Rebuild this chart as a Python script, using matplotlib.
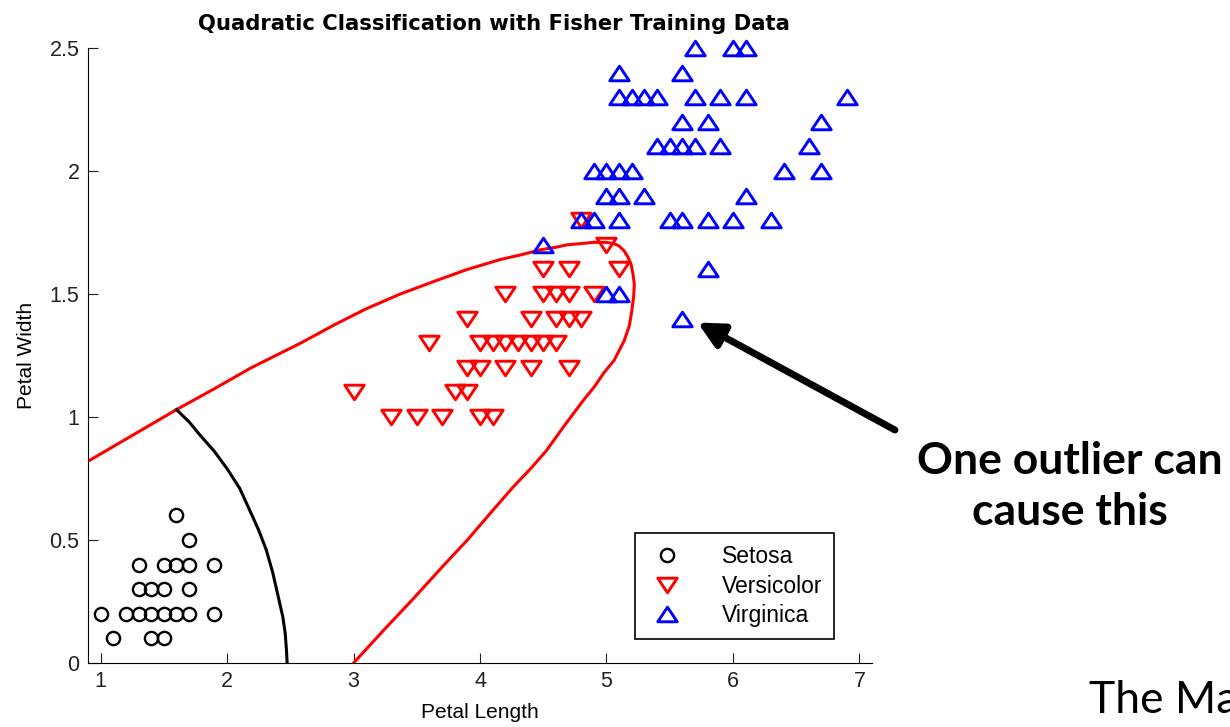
import matplotlib
matplotlib.use("Agg")
import matplotlib.pyplot as plt
from matplotlib.path import Path

plt.rcParams['font.family'] = ['Liberation Sans', 'DejaVu Sans']

# petal length / width
setosa_len = [1.6, 1.7, 1.3, 1.5, 1.6, 1.7, 1.9, 1.3, 1.4, 1.5, 1.7,
              1.0, 1.2, 1.3, 1.4, 1.5, 1.6, 1.7, 1.9, 1.1, 1.4, 1.5]
setosa_wid = [0.6, 0.5, 0.4, 0.4, 0.4, 0.4, 0.4, 0.3, 0.3, 0.3, 0.3,
              0.2, 0.2, 0.2, 0.2, 0.2, 0.2, 0.2, 0.2, 0.1, 0.1, 0.1]

versi_len = [5.0, 4.5, 4.7, 5.1, 4.2, 4.5, 4.6, 4.7, 4.9, 3.9, 4.4, 4.6, 4.7, 4.8,
             3.6, 4.0, 4.1, 4.2, 4.3, 4.4, 4.5, 4.6, 3.9, 4.0, 4.2, 4.4, 4.7,
             3.0, 3.8, 3.9, 3.3, 3.5, 3.7, 4.0, 4.1, 4.8]
versi_wid = [1.7, 1.6, 1.6, 1.6, 1.5, 1.5, 1.5, 1.5, 1.5, 1.4, 1.4, 1.4, 1.4, 1.4,
             1.3, 1.3, 1.3, 1.3, 1.3, 1.3, 1.3, 1.3, 1.2, 1.2, 1.2, 1.2, 1.2,
             1.1, 1.1, 1.1, 1.0, 1.0, 1.0, 1.0, 1.0, 1.8]

virg_len = [5.7, 6.0, 6.1, 5.1, 5.6, 5.1, 5.2, 5.3, 5.4, 5.7, 5.9, 6.1, 6.9,
            5.6, 5.8, 6.7, 5.4, 5.5, 5.6, 5.7, 5.9, 6.6, 4.9, 5.0, 5.1, 5.2, 6.4, 6.7,
            5.0, 5.1, 5.3, 6.1, 4.8, 4.9, 5.1, 5.5, 5.6, 5.8, 6.0, 6.3,
            4.5, 5.8, 5.0, 5.1, 5.6]
virg_wid = [2.5, 2.5, 2.5, 2.4, 2.4, 2.3, 2.3, 2.3, 2.3, 2.3, 2.3, 2.3, 2.3,
            2.2, 2.2, 2.2, 2.1, 2.1, 2.1, 2.1, 2.1, 2.1, 2.0, 2.0, 2.0, 2.0, 2.0, 2.0,
            1.9, 1.9, 1.9, 1.9, 1.8, 1.8, 1.8, 1.8, 1.8, 1.8, 1.8, 1.8,
            1.7, 1.6, 1.5, 1.5, 1.4]

# decision boundaries
red_x = [0.9, 1.25, 1.60, 1.90, 2.19, 2.58, 2.85, 3.10, 3.37, 3.63, 3.90, 4.16, 4.33,
         4.48, 4.60, 4.69, 4.80, 4.90, 5.00, 5.06, 5.10, 5.14, 5.17, 5.195, 5.21, 5.22,
         5.215, 5.20, 5.18, 5.14, 5.10, 5.06, 4.98, 4.90, 4.82, 4.66, 4.52, 4.40, 4.27,
         4.10, 3.90, 3.70, 3.47, 3.25, 3.0]
red_y = [0.82, 0.925, 1.03, 1.115, 1.20, 1.30, 1.375, 1.44, 1.50, 1.55, 1.60, 1.64, 1.66,
         1.68, 1.69, 1.70, 1.705, 1.71, 1.71, 1.705, 1.695, 1.675, 1.65, 1.62, 1.58, 1.54,
         1.49, 1.43, 1.37, 1.31, 1.27, 1.23, 1.18, 1.12, 1.07, 0.96, 0.86, 0.79, 0.72,
         0.62, 0.50, 0.39, 0.26, 0.14, 0.0]
black_x = [1.60, 1.70, 1.78, 1.90, 2.00, 2.10, 2.18, 2.25, 2.31, 2.36, 2.40, 2.44, 2.46, 2.47, 2.475]
black_y = [1.03, 0.98, 0.93, 0.86, 0.79, 0.71, 0.62, 0.54, 0.46, 0.37, 0.28, 0.19, 0.12, 0.05, 0.0]

tri_up = Path([(-1, -0.75), (1, -0.75), (0, 0.75), (-1, -0.75)],
              [Path.MOVETO, Path.LINETO, Path.LINETO, Path.CLOSEPOLY])
tri_down = Path([(-1, 0.75), (1, 0.75), (0, -0.75), (-1, 0.75)],
                [Path.MOVETO, Path.LINETO, Path.LINETO, Path.CLOSEPOLY])

fig = plt.figure(figsize=(12.3, 7.27), dpi=100)
ax = fig.add_axes([0.0715, 0.088, 0.6375, 0.846])

ax.plot(red_x, red_y, color='red', lw=2.2, solid_joinstyle='round')
ax.plot(black_x, black_y, color='black', lw=2.2, solid_joinstyle='round')

ax.plot(setosa_len, setosa_wid, 'o', ls='none', mfc='none', mec='black', ms=9.5, mew=1.7,
        label='Setosa', clip_on=False)
ax.plot(versi_len, versi_wid, marker=tri_down, ls='none', mfc='none', mec='red', ms=14, mew=2.1,
        label='Versicolor', clip_on=False)
ax.plot(virg_len, virg_wid, marker=tri_up, ls='none', mfc='none', mec='blue', ms=14, mew=2.1,
        label='Virginica', clip_on=False)

ax.set_xlim(0.9, 7.1)
ax.set_ylim(0, 2.5)
ax.set_xticks([1, 2, 3, 4, 5, 6, 7])
ax.set_yticks([0, 0.5, 1, 1.5, 2, 2.5])
ax.set_yticklabels(['0', '0.5', '1', '1.5', '2', '2.5'])
ax.spines['top'].set_visible(False)
ax.spines['right'].set_visible(False)
ax.tick_params(direction='in', length=7, labelsize=15.5, pad=6, colors='#222222')

ax.set_xlabel('Petal Length', fontsize=15, labelpad=8)
ax.set_ylabel('Petal Width', fontsize=15, labelpad=10)
ax.set_title('Quadratic Classification with Fisher Training Data',
             fontsize=15.2, fontweight='bold', family='DejaVu Sans', pad=13, x=0.518)

leg = ax.legend(loc='upper left', bbox_to_anchor=(0.698, 0.211), fontsize=16.5,
                fancybox=False, edgecolor='black', framealpha=1, handlelength=1.8,
                handletextpad=1.5, borderpad=0.5, labelspacing=0.3, borderaxespad=0)
leg.get_frame().set_linewidth(1.2)

ax.annotate('', xy=(5.72, 1.384), xycoords='data',
            xytext=(0.7276, 0.4085), textcoords='figure fraction',
            arrowprops=dict(arrowstyle='-|>', lw=5, mutation_scale=38, color='black',
                            shrinkA=0, shrinkB=0))

fig.text(0.870, 0.331, 'One outlier can\ncause this', ha='center', va='center',
         multialignment='center', fontsize=32, fontweight='bold', family='Lato',
         linespacing=1.35)
fig.text(0.885, 0.037, 'The Ma', ha='left', va='center', fontsize=32, family='Lato')

plt.savefig('out.png')
plt.close()
